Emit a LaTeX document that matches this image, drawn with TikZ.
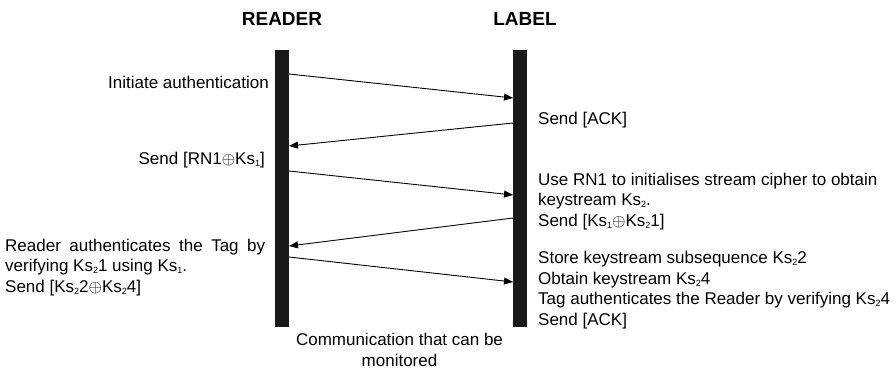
\documentclass[tikz,border=0pt]{standalone}
\usepackage{fontspec}
\setmainfont{Liberation Sans}
\usetikzlibrary{arrows.meta}
\newcommand{\xo}{\ensuremath{\oplus}}
\newcommand{\sbs}[1]{\raisebox{-2pt}{\fontsize{9}{9}\selectfont #1}}
\tikzset{
  bar/.style={fill=black!90, draw=none, minimum width=14pt, minimum height=277pt, inner sep=0pt},
  title/.style={font=\fontsize{19}{22}\selectfont\bfseries, inner sep=0pt},
  txt/.style={font=\fontsize{17}{20.5}\selectfont, inner sep=0pt},
  msg/.style={-{Triangle[length=9pt,width=7pt]}, line width=0.9pt},
}
\begin{document}
\begin{tikzpicture}[x=1pt,y=-1pt]
\useasboundingbox (0,0) rectangle (896,369);
\node[title] (rt) at (282,18.5) {READER};
\node[title] (lt) at (525,18.5) {LABEL};
\node[bar] (R) at (282,188.5) {};
\node[bar] (L) at (520,188.5) {};
% endpoints
\coordinate (r1) at (289,74);  \coordinate (l1) at (513,98);
\coordinate (l2) at (513,123); \coordinate (r2) at (289,146);
\coordinate (r3) at (289,171); \coordinate (l3) at (513,195);
\coordinate (l4) at (513,218); \coordinate (r4) at (289,246);
\coordinate (r5) at (289,257); \coordinate (l5) at (513,282);
\draw[msg] (r1) -- (l1);
\draw[msg] (l2) -- (r2);
\draw[msg] (r3) -- (l3);
\draw[msg] (l4) -- (r4);
\draw[msg] (r5) -- (l5);
% texts
\node[txt, anchor=base east] (t1) at (269,88) {Initiate authentication};
\node[txt, anchor=base west] (t2) at (538,124) {Send [ACK]};
\node[txt, anchor=base east] (t3) at (265,164) {Send [RN1\xo Ks\sbs{1}]};
\node[txt, anchor=north west, align=left] (t4) at (538,172.5)
  {Use RN1 to initialises stream cipher to obtain\\
   keystream Ks\sbs{2}.\\
   Send [Ks\sbs{1}\xo Ks\sbs{2}1]};
\node[txt, anchor=north west, align=left] (t5) at (538,251)
  {Store keystream subsequence Ks\sbs{2}2\\
   Obtain keystream Ks\sbs{2}4\\
   Tag authenticates the Reader by verifying Ks\sbs{2}4\\
   Send [ACK]};
\node[txt, anchor=north west, align=left] (t6) at (5,238.5)
  {\makebox[260pt][s]{Reader authenticates the Tag by}\\
   verifying Ks\sbs{2}1 using Ks\sbs{1}.\\
   Send [Ks\sbs{2}2\xo Ks\sbs{2}4]};
\node[txt, align=center, anchor=north] (t7) at (399.5,333)
  {Communication that can be\\monitored};
\end{tikzpicture}
\end{document}
